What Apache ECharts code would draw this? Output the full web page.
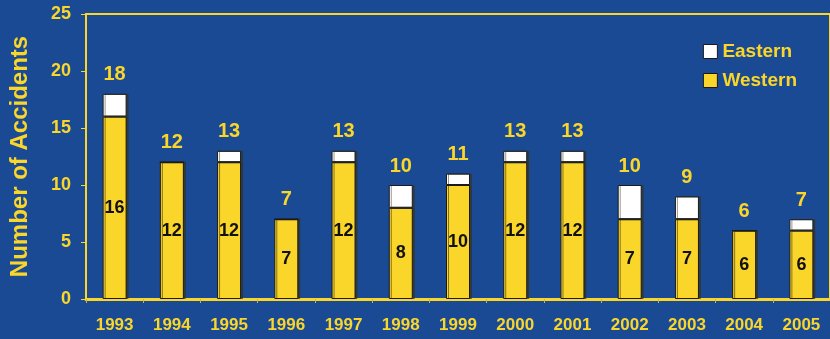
<!DOCTYPE html>
<html>
<head>
<meta charset="utf-8">
<script src="https://cdn.jsdelivr.net/npm/echarts@6/dist/echarts.min.js"></script>
<style>
  html, body { margin: 0; padding: 0; background: #1a4a94; }
  #chart { width: 830px; height: 339px; }
</style>
</head>
<body>
<div id="chart"></div>
<script>
// Accidents per year, split by region
const years = ['1993', '1994', '1995', '1996', '1997', '1998', '1999', '2000', '2001', '2002', '2003', '2004', '2005'];
const western = [16, 12, 12, 7, 12, 8, 10, 12, 12, 7, 7, 6, 6];
const eastern = [2, 0, 1, 0, 1, 2, 1, 1, 1, 3, 2, 0, 1];
const yTicks = [0, 5, 10, 15, 20, 25];

const YELLOW = '#fbd62a';
const BG = '#1a4a94';
const FONT = '"Liberation Sans", Arial, sans-serif';

const totals = western.map((w, i) => w + eastern[i]);

const chart = echarts.init(document.getElementById('chart'));
chart.setOption({
  backgroundColor: BG,
  animation: false,
  grid: {
    left: 85, top: 14, bottom: 40, right: -10,
    show: true, borderColor: YELLOW, borderWidth: 2, backgroundColor: 'transparent'
  },
  legend: {
    right: 28, top: 37, orient: 'vertical', itemGap: 10,
    itemWidth: 14, itemHeight: 14, icon: 'rect',
    data: ['Eastern', 'Western'],
    itemStyle: { borderColor: '#1a1a1a', borderWidth: 1, shadowBlur: 0, shadowOffsetX: 0 },
    textStyle: { color: YELLOW, fontFamily: FONT, fontWeight: 'bold', fontSize: 19, padding: [0, 0, 0, 0] }
  },
  xAxis: {
    type: 'category',
    data: years,
    axisLine: { lineStyle: { color: YELLOW, width: 3 } },
    axisTick: { show: true, length: 4, lineStyle: { color: '#c8b84a', width: 1 } },
    axisLabel: { color: YELLOW, fontFamily: FONT, fontWeight: 'bold', fontSize: 17, margin: 18 }
  },
  yAxis: {
    type: 'value',
    min: yTicks[0], max: yTicks[yTicks.length - 1], interval: 5,
    name: 'Number of Accidents',
    nameLocation: 'middle', nameGap: 54, nameRotate: 90,
    nameTextStyle: { color: YELLOW, fontFamily: FONT, fontWeight: 'bold', fontSize: 24 },
    axisLine: { show: true, lineStyle: { color: YELLOW, width: 2 } },
    axisTick: { show: true, length: 5, lineStyle: { color: YELLOW, width: 1 } },
    splitLine: { show: false },
    axisLabel: { color: YELLOW, fontFamily: FONT, fontWeight: 'bold', fontSize: 18, margin: 15 }
  },
  series: [
    {
      name: 'Western',
      type: 'bar',
      stack: 'total',
      barWidth: 24,
      data: western,
      itemStyle: {
        color: YELLOW, borderColor: '#1a1a1a', borderWidth: 1,
        shadowColor: 'rgba(60,50,20,0.6)', shadowOffsetX: 2, shadowOffsetY: 0, shadowBlur: 0
      },
      label: {
        show: true, position: 'inside', color: '#111',
        fontFamily: FONT, fontWeight: 'bold', fontSize: 18
      }
    },
    {
      name: 'Eastern',
      type: 'bar',
      stack: 'total',
      barWidth: 24,
      data: eastern,
      itemStyle: {
        color: '#ffffff', borderColor: '#1a1a1a', borderWidth: 1,
        shadowColor: 'rgba(60,50,20,0.5)', shadowOffsetX: 2, shadowOffsetY: 0, shadowBlur: 0
      },
      label: {
        show: true, position: 'top', distance: 9, color: YELLOW,
        fontFamily: FONT, fontWeight: 'bold', fontSize: 20,
        formatter: p => String(totals[p.dataIndex])
      }
    }
  ]
});
</script>
</body>
</html>
